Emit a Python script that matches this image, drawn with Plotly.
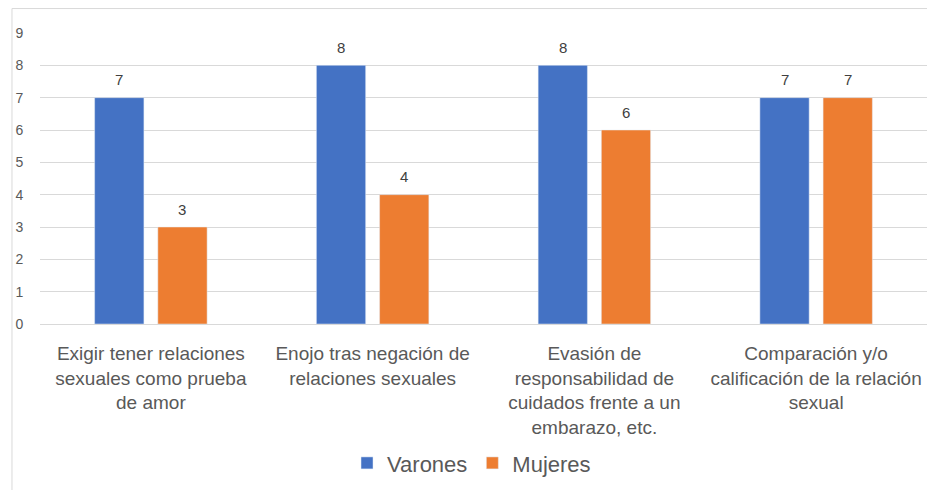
import plotly.graph_objects as go

categories = [
    "Exigir tener relaciones<br>sexuales como prueba<br>de amor",
    "Enojo tras negación de<br>relaciones sexuales",
    "Evasión de<br>responsabilidad de<br>cuidados frente a un<br>embarazo, etc.",
    "Comparación y/o<br>calificación de la relación<br>sexual",
]
varones = [7, 8, 8, 7]
mujeres = [3, 4, 6, 7]
y_ticks = [0, 1, 2, 3, 4, 5, 6, 7, 8, 9]

FONT = "Liberation Sans, Arial, sans-serif"
GREY = "#595959"

fig = go.Figure()
fig.add_trace(go.Bar(name="Varones", x=categories, y=varones, marker_color="#4472C4"))
fig.add_trace(go.Bar(name="Mujeres", x=categories, y=mujeres, marker_color="#ED7D31"))

annotations = []
for series, shift in ((varones, -31.5), (mujeres, 31.5)):
    for cat, val in zip(categories, series):
        annotations.append(dict(
            x=cat, y=val, xref="x", yref="y", text=str(val), showarrow=False,
            xshift=shift, yshift=18, yanchor="middle",
            font=dict(size=15, color="#404040", family=FONT),
        ))

fig.update_layout(
    width=927, height=482,
    margin=dict(l=32, r=8, t=25, b=165),
    paper_bgcolor="white", plot_bgcolor="white",
    barmode="group", bargap=0.43, bargroupgap=0.22,
    font=dict(family=FONT, color=GREY),
    showlegend=True,
    legend=dict(orientation="h", x=0.4865, xanchor="center", y=-0.473, yanchor="middle",
                font=dict(size=22, color=GREY), itemwidth=30, traceorder="normal"),
    xaxis=dict(showgrid=False, showline=False, ticks="outside", ticklen=12,
               tickcolor="rgba(0,0,0,0)", tickfont=dict(size=19, color=GREY),
               tickangle=0, automargin=False),
    yaxis=dict(range=[0, 9], tickvals=y_ticks, showgrid=True, gridcolor="#D9D9D9",
               gridwidth=1, zeroline=True, zerolinecolor="#D9D9D9", zerolinewidth=1,
               showline=False, ticks="outside", ticklen=13, tickcolor="rgba(0,0,0,0)",
               tickfont=dict(size=14, color=GREY), automargin=False),
    annotations=annotations,
    shapes=[dict(type="rect", xref="paper", yref="paper",
                 x0=-0.0316, x1=1.0056, y0=-0.6, y1=1.084,
                 line=dict(color="#D9D9D9", width=1), fillcolor="rgba(0,0,0,0)",
                 layer="below")],
)

fig.write_html("out.html")
